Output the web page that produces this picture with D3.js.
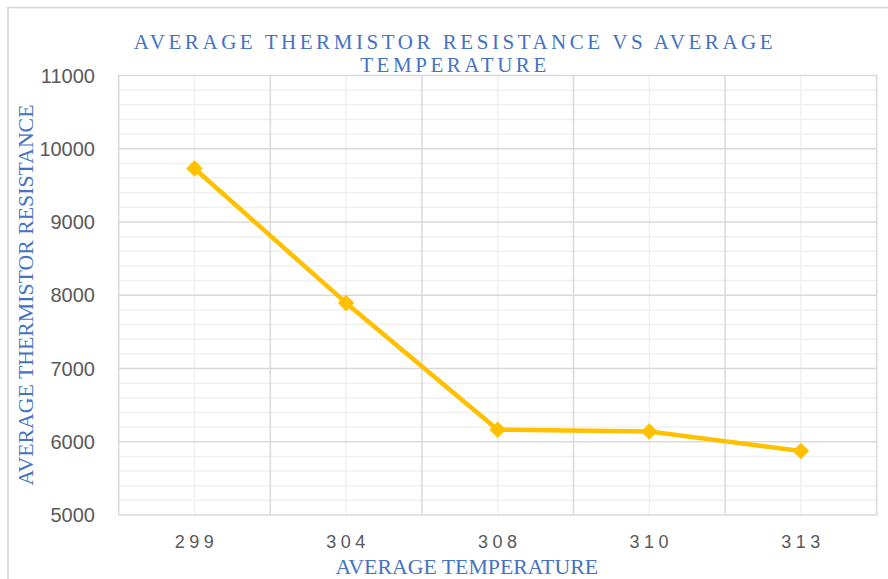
<!DOCTYPE html>
<html>
<head>
<meta charset="utf-8">
<script src="https://cdn.jsdelivr.net/npm/d3@7"></script>
<style>
  html, body { margin: 0; padding: 0; background: #fff; overflow: hidden; }
</style>
</head>
<body>
<div id="chart"></div>
<script>
// data
var temperatures = ["299", "304", "308", "310", "313"];
var resistances = [9730, 7895, 6165, 6140, 5875];
var yTicks = [5000, 6000, 7000, 8000, 9000, 10000, 11000];
var yMinorStep = 200;

var width = 888, height = 579;
var margin = { left: 118.7, right: 888 - 876.7, top: 75.5, bottom: 579 - 515 };

var blue = "#4472c4";
var serif = "'Liberation Serif', 'Times New Roman', serif";
var sans = "'Liberation Sans', Arial, sans-serif";

var svg = d3.select("#chart").append("svg")
  .attr("width", width)
  .attr("height", height);

// outer chart frame (runs off the right and bottom edges)
svg.append("rect")
  .attr("x", 8).attr("y", 7.5)
  .attr("width", 920).attr("height", 620)
  .style("fill", "none")
  .style("stroke", "#d9d9d9")
  .style("stroke-width", 1.75);

var x = d3.scaleBand()
  .domain(temperatures)
  .range([margin.left, width - margin.right])
  .padding(0);

var y = d3.scaleLinear()
  .domain([5000, 11000])
  .range([height - margin.bottom, margin.top]);

var grid = svg.append("g");

// minor horizontal lines
var minor = d3.range(5000, 11000 + 1, yMinorStep).filter(function(v) { return v % 1000 != 0; });
grid.selectAll(".hminor")
  .data(minor)
  .enter().append("line")
  .attr("x1", x.range()[0]).attr("x2", x.range()[1])
  .attr("y1", function(d) { return y(d); })
  .attr("y2", function(d) { return y(d); })
  .style("stroke", "#f0f0f0")
  .style("stroke-width", 1.5);

// minor vertical lines through category centres
grid.selectAll(".vminor")
  .data(temperatures)
  .enter().append("line")
  .attr("x1", function(d) { return x(d) + x.bandwidth() / 2; })
  .attr("x2", function(d) { return x(d) + x.bandwidth() / 2; })
  .attr("y1", y(11000)).attr("y2", y(5000))
  .style("stroke", "#f0f0f0")
  .style("stroke-width", 1.5);

// major horizontal lines
grid.selectAll(".hmajor")
  .data(yTicks)
  .enter().append("line")
  .attr("x1", x.range()[0]).attr("x2", x.range()[1])
  .attr("y1", function(d) { return y(d); })
  .attr("y2", function(d) { return y(d); })
  .style("stroke", "#d9d9d9")
  .style("stroke-width", 1.5);

// major vertical lines at band edges
var edges = temperatures.map(function(d) { return x(d); }).concat([x.range()[1]]);
grid.selectAll(".vmajor")
  .data(edges)
  .enter().append("line")
  .attr("x1", function(d) { return d; })
  .attr("x2", function(d) { return d; })
  .attr("y1", y(11000)).attr("y2", y(5000))
  .style("stroke", "#d9d9d9")
  .style("stroke-width", 1.5);

// y tick labels
svg.append("g").selectAll("text")
  .data(yTicks)
  .enter().append("text")
  .attr("x", 95)
  .attr("y", function(d) { return y(d); })
  .attr("dy", "0.36em")
  .attr("text-anchor", "end")
  .style("font-family", sans)
  .style("font-size", "20px")
  .style("fill", "#595959")
  .text(function(d) { return d; });

// x tick labels (spaced out)
svg.append("g").selectAll("text")
  .data(temperatures)
  .enter().append("text")
  .attr("x", function(d) { return x(d) + x.bandwidth() / 2 + 2; })
  .attr("y", 548)
  .attr("text-anchor", "middle")
  .style("font-family", sans)
  .style("font-size", "18px")
  .style("letter-spacing", "4.5px")
  .style("fill", "#595959")
  .text(function(d) { return d; });

// the series line
var line = d3.line()
  .x(function(d, i) { return x(temperatures[i]) + x.bandwidth() / 2; })
  .y(function(d) { return y(d); });

svg.append("path")
  .datum(resistances)
  .attr("d", line)
  .style("fill", "none")
  .style("stroke", "#ffc000")
  .style("stroke-width", 4.5)
  .style("stroke-linejoin", "round");

var diamond = d3.symbol().type(d3.symbolSquare).size(136);
svg.append("g").selectAll("path")
  .data(resistances)
  .enter().append("path")
  .attr("d", diamond)
  .attr("transform", function(d, i) {
    return "translate(" + (x(temperatures[i]) + x.bandwidth() / 2) + "," + y(d) + ") rotate(45)";
  })
  .style("fill", "#ffc000");

// titles
var title = svg.append("text")
  .attr("text-anchor", "middle")
  .style("font-family", serif)
  .style("font-size", "21px")
  .style("letter-spacing", "3.55px")
  .style("fill", blue);
title.append("tspan").attr("x", 455).attr("y", 48.5)
  .text("AVERAGE THERMISTOR RESISTANCE VS AVERAGE");
title.append("tspan").attr("x", 455).attr("y", 72)
  .text("TEMPERATURE");

svg.append("text")
  .attr("x", 466.7)
  .attr("y", 574)
  .attr("text-anchor", "middle")
  .style("font-family", serif)
  .style("font-size", "21.8px")
  .style("fill", blue)
  .text("AVERAGE TEMPERATURE");

svg.append("text")
  .attr("transform", "translate(33,295) rotate(-90)")
  .attr("text-anchor", "middle")
  .style("font-family", serif)
  .style("font-size", "21.8px")
  .style("fill", blue)
  .text("AVERAGE THERMISTOR RESISTANCE");
</script>
</body>
</html>
